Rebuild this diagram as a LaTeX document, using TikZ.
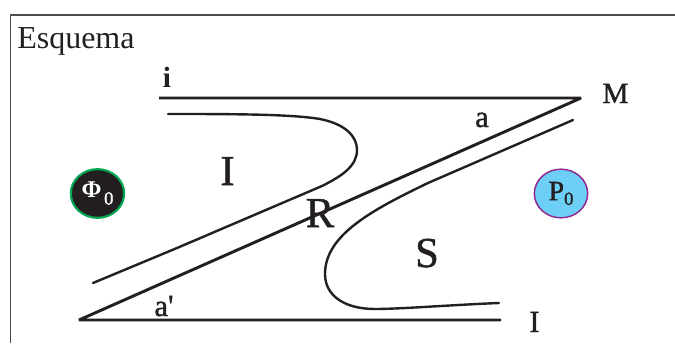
\documentclass[tikz,border=0pt]{standalone}
\usepackage{fontspec}
\setmainfont{Liberation Serif}
\newfontfamily\semib[RawFeature={embolden=1.2}]{Liberation Serif}
\usetikzlibrary{shapes.geometric}
\definecolor{ink}{HTML}{231F20}
\definecolor{rim}{HTML}{00A651}
\definecolor{sky}{HTML}{6DCFF6}
\definecolor{plum}{HTML}{92278F}
\newcommand{\fsz}[1]{\fontsize{#1}{#1}\selectfont}
\tikzset{
  x=0.75pt,y=-0.75pt,
  frameline/.style={draw=ink!80,line width=1.1pt},
  heavy/.style={draw=ink,line width=2.2pt,line join=bevel},
  thincurve/.style={draw=ink,line width=1.8pt,line cap=round},
  lab/.style={inner sep=0pt,text=ink,font=\semib},
  blob/.style={ellipse,minimum width=40pt,minimum height=36.5pt,inner sep=0pt}
}
\begin{document}
\begin{tikzpicture}
\useasboundingbox (0,0) rectangle (675,343);
\draw[frameline] (10.5,343) |- (675,15);
\node[anchor=base west,inner sep=0pt,text=ink,font=\fsz{24}] (title) at (17,48) {Esquema};
\coordinate (iL) at (159,98);
\coordinate (Mp) at (581,98);
\coordinate (Ap) at (79,320);
\coordinate (IR) at (501,320);
\draw[heavy] (iL) -- (Mp) -- (Ap) -- (IR);
\coordinate (u0) at (168,114);
\coordinate (u1) at (357,150);
\coordinate (u2) at (93,283);
\coordinate (l0) at (573,120);
\coordinate (l1) at (325,274);
\coordinate (l2) at (499,303);
\draw[thincurve] (u0) .. controls (230,114) and (290,114) .. (320,119)
  .. controls (345,124) and (357,136) .. (u1)
  .. controls (357,166) and (342,176) .. (322,186)
  -- (177,248) -- (u2);
\draw[thincurve] (l0) -- (428,183)
  .. controls (372,210) and (325,235) .. (l1)
  .. controls (325,296) and (345,309) .. (375,309)
  .. controls (400,309) and (450,305) .. (l2);
\node[blob,draw=rim,line width=1.6pt,fill=ink,text=white] (phi) at (97.5,193.5) {\raisebox{1pt}{\fsz{18}\bfseries Φ}\hspace{2pt}\raisebox{-4pt}{\fsz{14}\semib 0}};
\node[blob,draw=plum,line width=1.1pt,fill=sky,text=ink] (po) at (561,193.5) {\fsz{21}\semib P\raisebox{-3.5pt}{\fsz{14}\semib 0}};
\node[anchor=base,lab,font=\fsz{22}\bfseries] (i) at (167,87) {i};
\node[anchor=base,lab,font=\semib\fsz{22}] (M) at (615.5,103) {M};
\node[anchor=base,lab,font=\semib\fsz{23}] (a) at (482,127) {a};
\node[anchor=base,lab,font=\semib\fsz{23}] (ap) at (164,316) {a'};
\node[anchor=base,lab,font=\semib\fsz{23}] (I2) at (534.5,332) {I};
\node[anchor=base,lab,font=\semib\fsz{32}] (I1) at (227.5,185) {I};
\node[anchor=base,lab,font=\semib\fsz{32}] (R) at (320,227) {R};
\node[anchor=base,lab,font=\semib\fsz{32}] (S) at (427,267) {S};
\end{tikzpicture}
\end{document}
